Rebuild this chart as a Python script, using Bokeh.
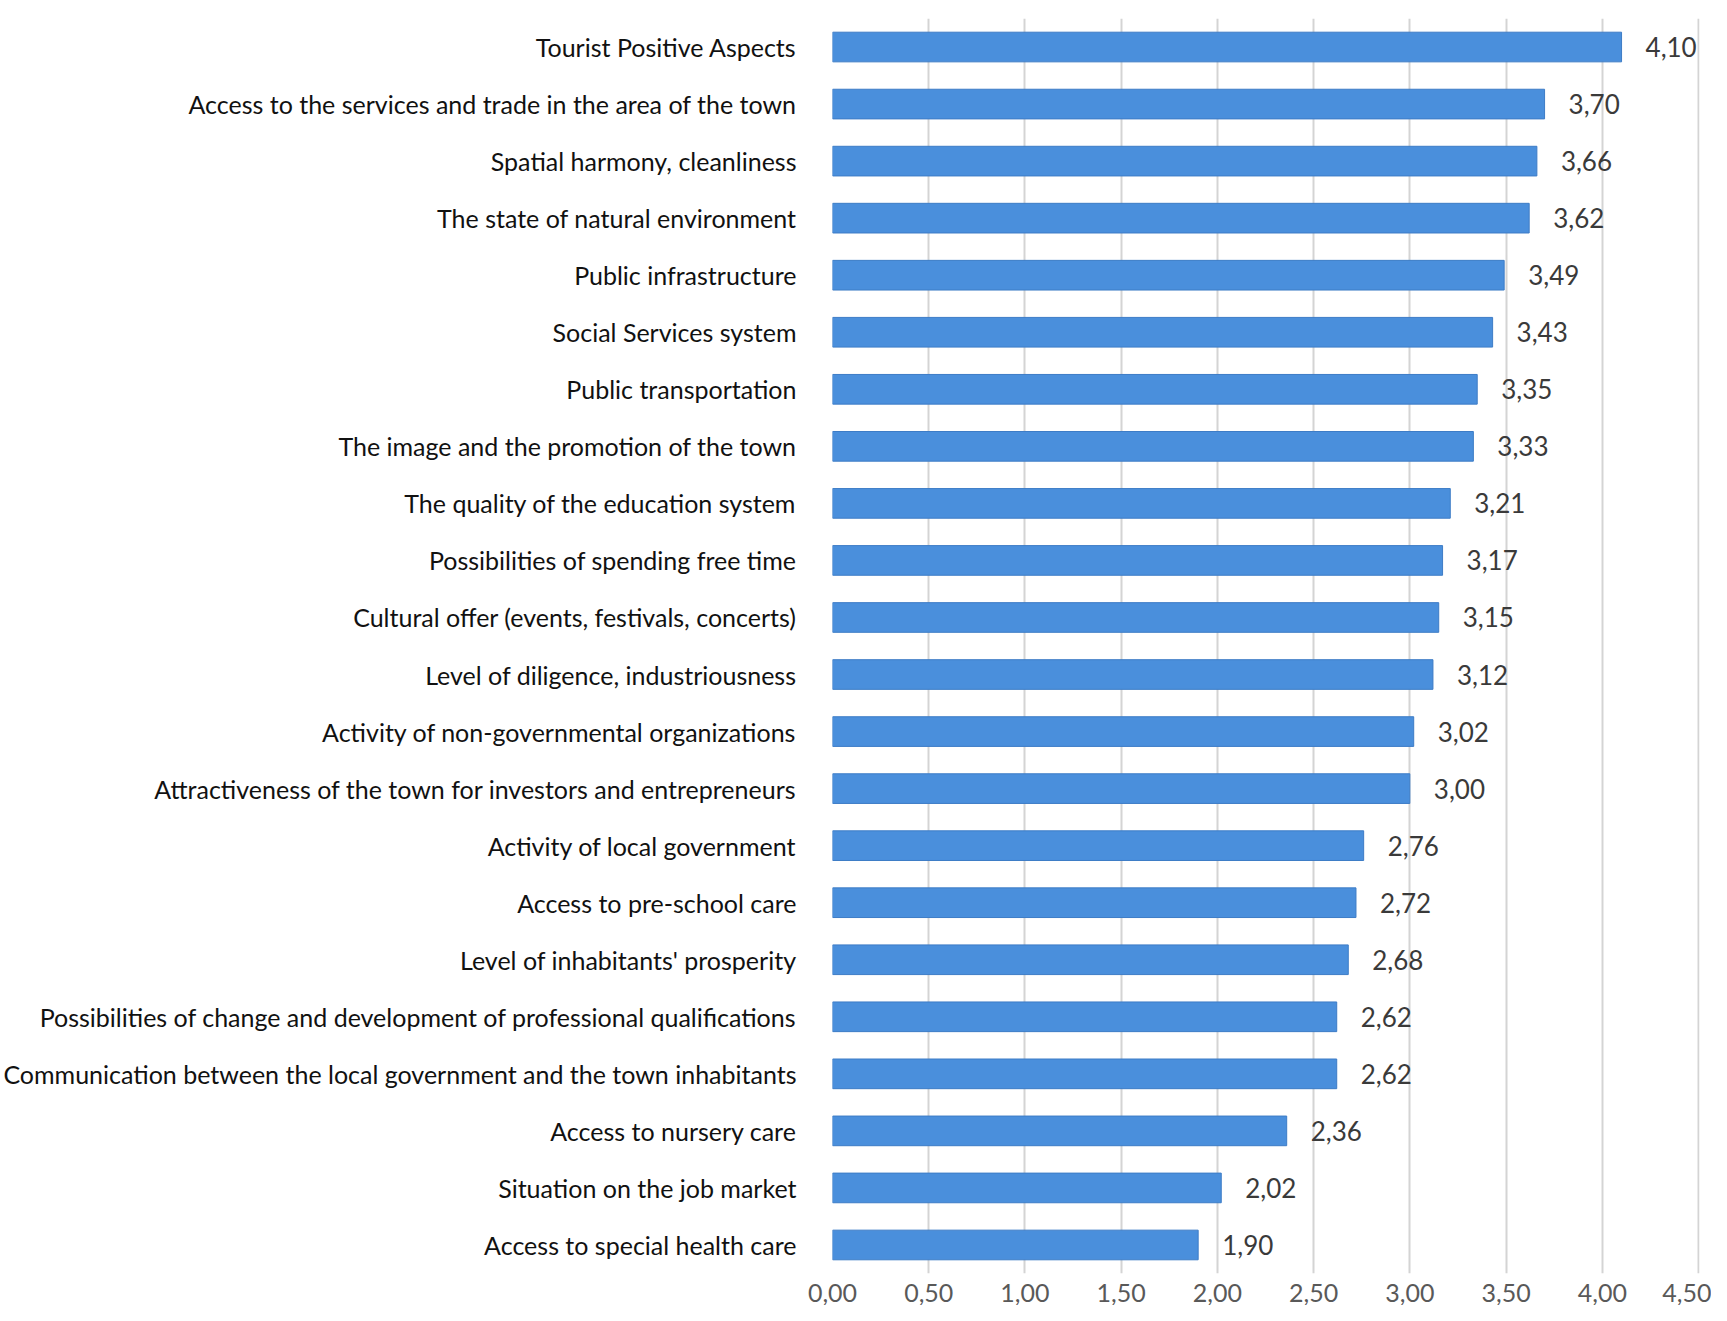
from bokeh.plotting import figure
from bokeh.models import ColumnDataSource, FactorRange, FixedTicker, CustomJSTickFormatter
from bokeh.core.properties import value
from bokeh.embed import file_html
from bokeh.resources import INLINE

categories = [
    "Tourist Positive Aspects",
    "Access to the services and trade in the area of the town",
    "Spatial harmony, cleanliness",
    "The state of natural environment",
    "Public infrastructure",
    "Social Services system",
    "Public transportation",
    "The image and the promotion of the town",
    "The quality of the education system",
    "Possibilities of spending free time",
    "Cultural offer (events, festivals, concerts)",
    "Level of diligence, industriousness",
    "Activity of non-governmental organizations",
    "Attractiveness of the town for investors and entrepreneurs",
    "Activity of local government",
    "Access to pre-school care",
    "Level of inhabitants' prosperity",
    "Possibilities of change and development of professional qualifications",
    "Communication between the local government and the town inhabitants",
    "Access to nursery care",
    "Situation on the job market",
    "Access to special health care",
]
values = [4.10, 3.70, 3.66, 3.62, 3.49, 3.43, 3.35, 3.33, 3.21, 3.17, 3.15,
          3.12, 3.02, 3.00, 2.76, 2.72, 2.68, 2.62, 2.62, 2.36, 2.02, 1.90]
x_ticks = [0.0, 0.5, 1.0, 1.5, 2.0, 2.5, 3.0, 3.5, 4.0, 4.5]

labels = [("%.2f" % v).replace(".", ",") for v in values]
src = ColumnDataSource(dict(cat=categories, val=values, lab=labels))

p = figure(
    width=1711, height=1305,
    y_range=FactorRange(*reversed(categories)),
    x_range=(0, 4.505),
    output_backend="svg", toolbar_location=None,
    min_border_left=824, min_border_right=12, min_border_top=18, min_border_bottom=32,
)
p.outline_line_color = None
p.background_fill_color = "white"

p.hbar(y="cat", right="val", left=0, height=0.52, source=src,
       fill_color="#4A8FDC", line_color="#3D7CC6", line_width=1)

p.text(x="val", y="cat", text="lab", source=src, x_offset=24,
       text_align="left", text_baseline="middle",
       text_font=value("Lato"), text_font_size="26px", text_color="#3a3a3a")

p.xaxis.ticker = FixedTicker(ticks=x_ticks)
p.xaxis.formatter = CustomJSTickFormatter(code="return tick.toFixed(2).replace('.', ',');")
p.xaxis.axis_line_color = None
p.xaxis.major_tick_line_color = None
p.xaxis.minor_tick_line_color = None
p.xaxis.major_label_text_font = "Lato"
p.xaxis.major_label_text_font_size = "25px"
p.xaxis.major_label_text_color = "#595959"
p.xaxis.major_label_standoff = 4

p.yaxis.axis_line_color = None
p.yaxis.major_tick_line_color = None
p.yaxis.minor_tick_line_color = None
p.yaxis.major_label_text_font = "Lato"
p.yaxis.major_label_text_font_size = "25px"
p.yaxis.major_label_text_color = "#111111"
p.yaxis.major_label_standoff = 30

p.xgrid.grid_line_color = "#d4d4d4"
p.xgrid.grid_line_width = 2
p.ygrid.grid_line_color = None

open("out.html", "w").write(file_html(p, INLINE))
